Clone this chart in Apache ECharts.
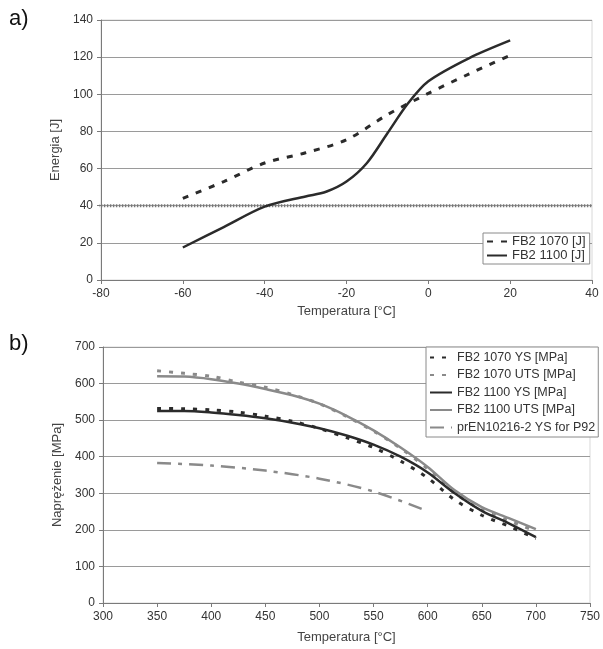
<!DOCTYPE html>
<html><head><meta charset="utf-8">
<script src="https://cdn.jsdelivr.net/npm/echarts@6/dist/echarts.min.js"></script>
<style>html,body{margin:0;padding:0;background:#fff}#c{width:603px;height:649px}</style>
</head><body><div id="c"></div>
<script>
// Panel a) impact energy
var tempA1070 = [-60, -50, -40, -30, -20, -10, 0, 10, 20];
var energy1070 = [44, 53, 63, 68.5, 75.5, 89, 100.5, 111, 121];
var tempA1100 = [-60, -50, -40, -30, -25, -20, -15, -10, -5, 0, 10, 20];
var energy1100 = [17.5, 28.5, 39.5, 45, 47.5, 53, 63, 79, 95, 107, 119.5, 129];
var energyLimit = 40;
var namesA = ['FB2 1070 [J]', 'FB2 1100 [J]'];

// Panel b) strength vs temperature
var tempB = [350, 375, 400, 425, 450, 475, 500, 525, 550, 575, 600, 625, 650, 675, 700];
var ys1070 = [532, 531, 528, 522, 511, 497, 477, 452, 425, 388, 342, 282, 240, 210, 176];
var uts1070 = [635, 628, 620, 604, 590, 570, 545, 510, 470, 423, 367, 300, 255, 225, 196];
var ys1100 = [525, 525, 521, 514, 505, 493, 478, 458, 433, 400, 357, 300, 252, 218, 180];
var uts1100 = [620, 619, 612, 600, 585, 568, 545, 512, 472, 425, 372, 308, 262, 232, 202];
var tempP92 = [350, 400, 450, 500, 550, 600];
var ysP92 = [383, 376, 362, 340, 305, 251];
var namesB = ['FB2 1070 YS [MPa]', 'FB2 1070 UTS [MPa]', 'FB2 1100 YS [MPa]', 'FB2 1100 UTS [MPa]', 'prEN10216-2 YS for P92'];

function zip(xs, ys) { return xs.map(function (x, i) { return [x, ys[i]]; }); }

var font = 'Liberation Sans, Arial, sans-serif';
var dark = '#2b2b2b', gray = '#8a8a8a';
var axisCommon = {
  axisLine: { show: true, onZero: false, lineStyle: { color: '#7a7a7a', width: 1 } },
  axisTick: { show: true, length: 4, lineStyle: { color: '#7a7a7a' } },
  axisLabel: { color: '#333', fontFamily: font, fontSize: 12 },
  nameTextStyle: { color: '#444', fontFamily: font, fontSize: 13 },
  nameLocation: 'middle'
};
function ax(extra) { return Object.assign({}, JSON.parse(JSON.stringify(axisCommon)), extra); }
var legendItem = { color: 'transparent', borderColor: 'transparent', borderWidth: 0, opacity: 0 };

var chart = echarts.init(document.getElementById('c'), null, { renderer: 'canvas' });
chart.setOption({
  animation: false,
  backgroundColor: '#fff',
  textStyle: { fontFamily: font },
  graphic: [
    { type: 'text', left: 9, top: 8, style: { text: 'a)', fontSize: 22, fontFamily: font, fill: '#111' } },
    { type: 'text', left: 9, top: 333, style: { text: 'b)', fontSize: 22, fontFamily: font, fill: '#111' } }
  ],
  grid: [
    { left: 101, top: 20, width: 491, height: 260, show: true, borderColor: '#d8d8d8', borderWidth: 1 },
    { left: 103, top: 347, width: 489, height: 256, show: true, borderColor: '#d8d8d8', borderWidth: 1 }
  ],
  xAxis: [
    ax({ gridIndex: 0, type: 'value', min: -80, max: 40, interval: 20, name: 'Temperatura [°C]', nameGap: 25, splitLine: { show: false } }),
    ax({ gridIndex: 1, type: 'value', min: 300, max: 750, interval: 50, name: 'Temperatura [°C]', nameGap: 28, splitLine: { show: false } })
  ],
  yAxis: [
    ax({ gridIndex: 0, type: 'value', min: 0, max: 140, interval: 20, name: 'Energia [J]', nameGap: 33,
      splitLine: { show: true, lineStyle: { color: '#9a9a9a', width: 1 } } }),
    ax({ gridIndex: 1, type: 'value', min: 0, max: 700, interval: 100, name: 'Naprężenie [MPa]', nameGap: 32,
      splitLine: { show: true, lineStyle: { color: '#9a9a9a', width: 1 } } })
  ],
  legend: [
    { data: namesA, orient: 'vertical', left: 483, top: 233, itemGap: 1, itemWidth: 20, itemHeight: 10,
      itemStyle: legendItem,
      backgroundColor: '#fff', borderColor: '#8a8a8a', borderWidth: 1, padding: [2, 4, 2, 3],
      textStyle: { fontFamily: font, fontSize: 13, color: '#333' } },
    { data: namesB, orient: 'vertical', left: 426, top: 347, itemGap: 4.5, itemWidth: 22, itemHeight: 10,
      itemStyle: legendItem,
      backgroundColor: '#fff', borderColor: '#8a8a8a', borderWidth: 1, padding: [4, 3, 3, 3],
      textStyle: { fontFamily: font, fontSize: 12.5, color: '#333' } }
  ],
  series: [
    { name: 'limit', type: 'line', xAxisIndex: 0, yAxisIndex: 0, symbol: 'none', silent: true,
      data: [[-81.5, energyLimit], [40, energyLimit]],
      lineStyle: { color: '#777', width: 3, type: [1.5, 1.5] } },
    { name: namesA[0], type: 'line', xAxisIndex: 0, yAxisIndex: 0, symbol: 'none', smooth: 0.3,
      data: zip(tempA1070, energy1070), color: dark,
      lineStyle: { color: dark, width: 3, type: [6, 8] } },
    { name: namesA[1], type: 'line', xAxisIndex: 0, yAxisIndex: 0, symbol: 'none', smooth: 0.3,
      data: zip(tempA1100, energy1100), color: dark,
      lineStyle: { color: dark, width: 2.5 } },

    { name: namesB[3], type: 'line', xAxisIndex: 1, yAxisIndex: 1, symbol: 'none', smooth: 0.3,
      data: zip(tempB, uts1100), color: gray, lineStyle: { color: gray, width: 2.5 } },
    { name: namesB[1], type: 'line', xAxisIndex: 1, yAxisIndex: 1, symbol: 'none', smooth: 0.3,
      data: zip(tempB, uts1070), color: gray, lineStyle: { color: gray, width: 3, type: [4, 8] } },
    { name: namesB[2], type: 'line', xAxisIndex: 1, yAxisIndex: 1, symbol: 'none', smooth: 0.3,
      data: zip(tempB, ys1100), color: dark, lineStyle: { color: dark, width: 2.5 } },
    { name: namesB[0], type: 'line', xAxisIndex: 1, yAxisIndex: 1, symbol: 'none', smooth: 0.3,
      data: zip(tempB, ys1070), color: dark, lineStyle: { color: dark, width: 3, type: [4, 8] } },
    { name: namesB[4], type: 'line', xAxisIndex: 1, yAxisIndex: 1, symbol: 'none', smooth: 0.3,
      data: zip(tempP92, ysP92), color: gray, lineStyle: { color: gray, width: 2.5, type: [14, 7, 4, 7] } }
  ]
});
</script></body></html>
